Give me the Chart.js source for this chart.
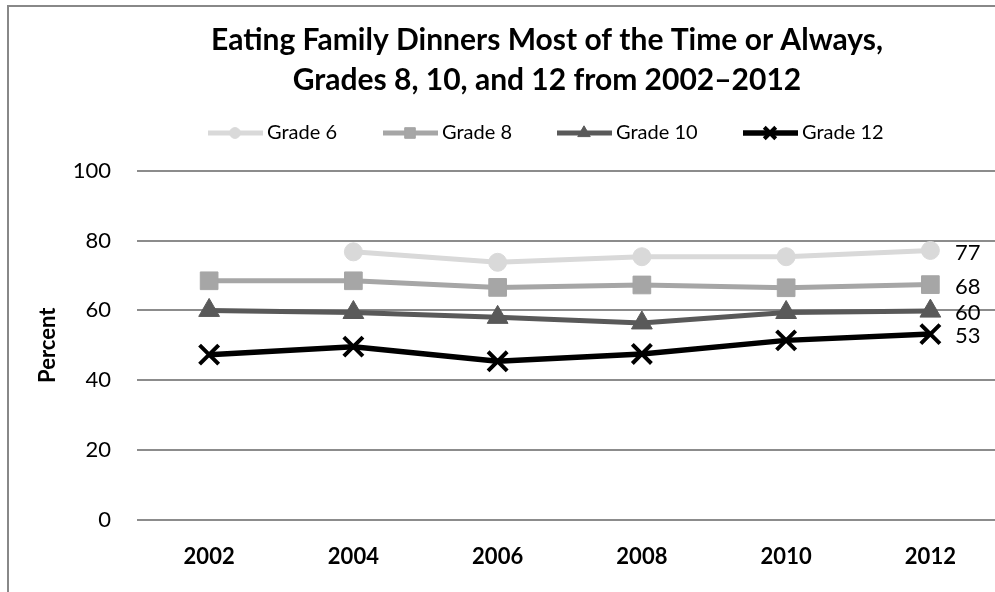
<!DOCTYPE html>
<html>
<head>
<meta charset="utf-8">
<script src="https://cdn.jsdelivr.net/npm/chart.js@4.4.1/dist/chart.umd.min.js"></script>
<style>
  html, body { margin: 0; padding: 0; background: #fff; overflow: hidden; }
  #wrap { position: relative; width: 1020px; height: 600px; }
</style>
</head>
<body>
<div id="wrap"><canvas id="chart" width="1020" height="600"></canvas></div>
<script>
// data
var years = ["2002", "2004", "2006", "2008", "2010", "2012"];
var grade6 = [null, 76.8, 73.8, 75.4, 75.4, 77.2];
var grade8 = [68.5, 68.5, 66.6, 67.3, 66.5, 67.4];
var grade10 = [60.0, 59.4, 58.0, 56.4, 59.4, 59.8];
var grade12 = [47.3, 49.6, 45.4, 47.5, 51.4, 53.2];
var endLabels = ["77", "68", "60", "53"];
var yTicks = [0, 20, 40, 60, 80, 100];

var titleLines = ["Eating Family Dinners Most of the Time or Always,", "Grades 8, 10, and 12 from 2002\u20132012"];
var FONT = "Lato, 'Open Sans', sans-serif";

//draw title, legend, frame and end labels
var decor = {
	id: 'decor',
	afterDraw: function (chart) {
		var ctx = chart.ctx;
		ctx.save();
		// outer frame
		ctx.strokeStyle = "#888";
		ctx.lineWidth = 2;
		ctx.strokeRect(8, 6, 1100, 700);

		// title
		ctx.fillStyle = "#000";
		ctx.font = "bold 30px " + FONT;
		ctx.textAlign = "center";
		ctx.textBaseline = "middle";
		ctx.fillText(titleLines[0], 547, 40);
		ctx.fillText(titleLines[1], 547, 80);

		// legend
		var legendX = [208, 383, 557, 743];
		ctx.font = "20px " + FONT;
		ctx.textAlign = "left";
		chart.data.datasets.forEach(function (ds, i) {
			var x0 = legendX[i], y = 133;
			ctx.strokeStyle = ds.borderColor;
			ctx.fillStyle = ds.borderColor;
			ctx.lineWidth = ds.borderWidth;
			ctx.beginPath();
			ctx.moveTo(x0, y);
			ctx.lineTo(x0 + 55, y);
			ctx.stroke();
			ctx.lineWidth = ds.pointBorderWidth;
			Chart.helpers.drawPoint(ctx, {
				pointStyle: ds.pointStyle,
				radius: ds.pointRadius * 0.6,
				borderWidth: ds.pointBorderWidth,
				rotation: 0
			}, x0 + 27, y);
			ctx.fillStyle = "#000";
			ctx.fillText(ds.label, x0 + 59, y);
		});

		// labels at the end of each line
		ctx.font = "22px " + FONT;
		ctx.fillStyle = "#000";
		var yScale = chart.scales.y;
		var labelY = [grade6[5], grade8[5], grade10[5], grade12[5]];
		for (var i = 0; i < endLabels.length; i++) {
			ctx.fillText(endLabels[i], 955, yScale.getPixelForValue(labelY[i]) + 2);
		}
		ctx.restore();
	}
};

function series(label, data, color, style, radius, width, order)
{
	return {
		label: label,
		data: data,
		borderColor: color,
		backgroundColor: color,
		pointBackgroundColor: color,
		pointBorderColor: color,
		borderWidth: width,
		pointStyle: style,
		pointRadius: radius,
		pointHoverRadius: radius,
		pointBorderWidth: style == 'crossRot' ? 4 : 1,
		tension: 0,
		spanGaps: false,
		order: order
	};
}

new Chart(document.getElementById("chart"), {
	type: 'line',
	data: {
		labels: years,
		datasets: [
			series("Grade 6", grade6, "#d9d9d9", 'circle', 9, 5, 4),
			series("Grade 8", grade8, "#a6a6a6", 'rect', 12.5, 5, 3),
			series("Grade 10", grade10, "#595959", 'triangle', 12, 5, 2),
			series("Grade 12", grade12, "#000000", 'crossRot', 13.5, 5.5, 1)
		]
	},
	options: {
		responsive: false,
		animation: false,
		devicePixelRatio: 1,
		layout: { padding: { top: 171, left: 8, right: 8, bottom: 20 } },
		plugins: {
			legend: { display: false },
			title: { display: false },
			tooltip: { enabled: false }
		},
		scales: {
			x: {
				offset: true,
				grid: { display: false, drawTicks: false },
				border: { display: false },
				afterFit: function (axis) { axis.height = 60.5; },
				ticks: {
					color: "#000",
					padding: 24,
					font: { family: FONT, size: 22, weight: 'bold' }
				}
			},
			y: {
				min: 0,
				max: 100,
				afterBuildTicks: function (axis) {
					axis.ticks = yTicks.map(function (v) { return { value: v }; });
				},
				afterFit: function (axis) { axis.width = 129; },
				grid: { color: "#8c8c8c", lineWidth: 2, drawTicks: false },
				border: { display: false },
				ticks: {
					color: "#000",
					padding: 26,
					font: { family: FONT, size: 22 }
				},
				title: {
					display: true,
					text: "Percent",
					color: "#000",
					padding: { top: 27, bottom: 0 },
					font: { family: FONT, size: 22, weight: 'bold' }
				}
			}
		}
	},
	plugins: [decor]
});
</script>
</body>
</html>
